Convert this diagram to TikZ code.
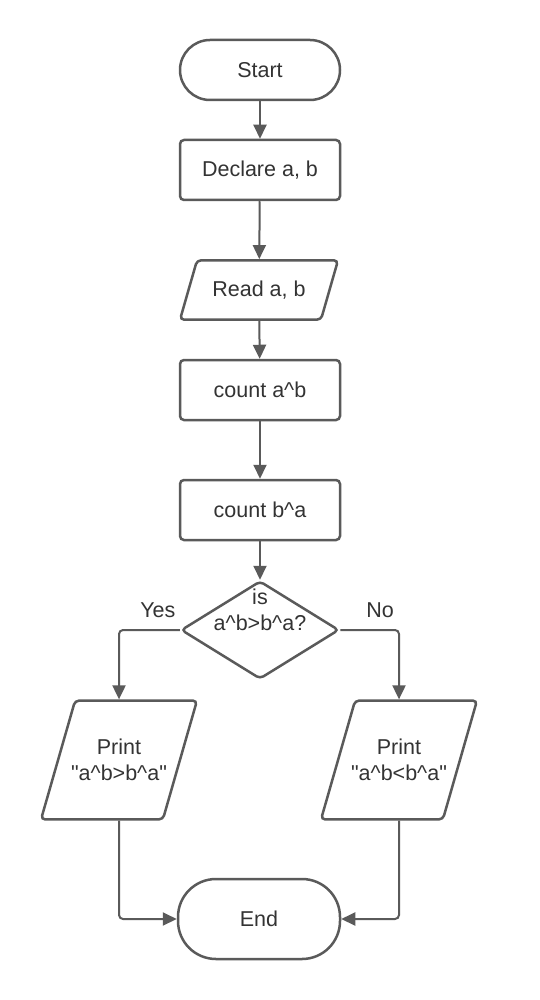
\documentclass[tikz,border=0pt]{standalone}
\usepackage{fontspec}
\setmainfont{Liberation Sans}
\usetikzlibrary{shapes.geometric}
\usetikzlibrary{arrows.meta}
\definecolor{linegray}{HTML}{5A5A5A}
\definecolor{textgray}{HTML}{333333}

\begin{document}
\begin{tikzpicture}[x=1pt,y=-1pt]
			\tikzstyle{every node}=[font=\fontsize{21.5}{26}\selectfont,text=textgray,align=center]
			\tikzstyle{terminal}=[rectangle,draw=linegray,line width=2.5pt,rounded corners=30pt,minimum width=160pt,minimum height=60pt]
			\tikzstyle{process}=[rectangle,draw=linegray,line width=2.5pt,rounded corners=4pt,minimum width=160pt,minimum height=60pt]
			\tikzstyle{io}=[trapezium,trapezium left angle=74,trapezium right angle=106,trapezium stretches body=true,draw=linegray,line width=2.5pt,rounded corners=4pt,inner xsep=2pt,minimum width=158pt]
			\tikzstyle{decision}=[diamond,draw=linegray,line width=2.5pt,rounded corners=4pt,minimum width=158pt,minimum height=98pt,inner sep=0pt]
			\tikzstyle{flow}=[draw=linegray,line width=2pt,rounded corners=4pt,-{Triangle[length=14pt,width=13pt]}]
			
			\fill[white] (0,0) rectangle (540,1000);
			\useasboundingbox (0,0) rectangle (540,1000);
			
			\node[terminal] (start) at (260,70) {Start};
			\node[process] (declare) at (260,170) {Declare a, b};
			\node[io,inner ysep=20.5pt] (read) at (259,290) {Read a, b};
			\node[process] (countab) at (260,390) {count a\textasciicircum b};
			\node[process] (countba) at (260,510) {count b\textasciicircum a};
			\node[decision,label={[yshift=20pt]center:is\\a\textasciicircum b>b\textasciicircum a?}] (check) at (260,630) {};
			\node[io,inner ysep=38.5pt,inner xsep=-4pt,minimum width=150pt] (printgt) at (119,760) {Print\\\textquotedbl a\textasciicircum b>b\textasciicircum a\textquotedbl};
			\node[io,inner ysep=38.5pt,inner xsep=-4pt,minimum width=150pt] (printlt) at (399,760) {Print\\\textquotedbl a\textasciicircum b<b\textasciicircum a\textquotedbl};
			\node[terminal,minimum width=162pt,minimum height=80pt,rounded corners=38pt] (end) at (259,919) {End};
			
			\draw[flow] (start) -- (declare);
			\draw[flow] (declare) -- (read);
			\draw[flow] (read) -- (countab);
			\draw[flow] (countab) -- (countba);
			\draw[flow] (countba) -- (check);
			\draw[flow] (check.west) -| node[pos=0.18,above,yshift=8pt] {Yes} (printgt.north);
			\draw[flow] (check.east) -| node[pos=0.34,above,yshift=8pt] {No} (printlt.north);
			\draw[flow] (printgt.south) |- (end.west);
			\draw[flow] (printlt.south) |- (end.east);
\end{tikzpicture}
\end{document}
